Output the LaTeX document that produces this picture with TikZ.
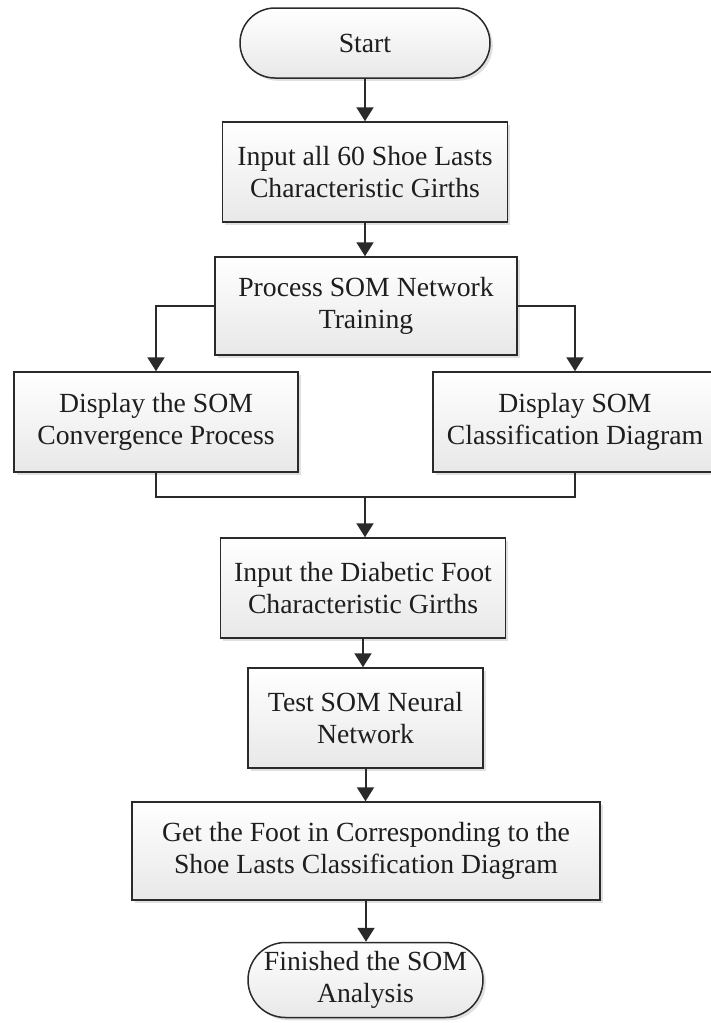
\documentclass[tikz,border=0pt]{standalone}
\usepackage{fontspec}
\setmainfont{Liberation Serif}
\usetikzlibrary{arrows.meta}
\usetikzlibrary{shadows}
\definecolor{inkgray}{HTML}{1E1E1E}
\definecolor{linegray}{HTML}{2A2A2A}
\tikzstyle{box base}=[draw=linegray, line width=0.75pt, align=center, text=inkgray,
  font=\fontsize{13.85pt}{16pt}\selectfont, inner xsep=0pt,
  top color=white, bottom color=black!9,
  drop shadow={shadow xshift=1.4pt, shadow yshift=-1.4pt, fill=black!30, opacity=0.4}]
\tikzstyle{process}=[box base, rectangle, minimum height=50pt]
\tikzstyle{terminal}=[box base, rectangle, rounded corners=17.5pt]
\tikzstyle{flow}=[draw=linegray, line width=1pt, -{Triangle[length=7pt, width=8.5pt]}]
\tikzstyle{merge line}=[draw=linegray, line width=1pt]

\begin{document}
\begin{tikzpicture}[x=0.5pt, y=-0.5pt]
      \useasboundingbox[fill=white] (0, 0) rectangle (711, 1023);
      \node[terminal, minimum width=125pt, minimum height=35pt] (start) at (365, 43) {Start};
      \node[process, minimum width=142.5pt] (girths) at (365, 172) {Input all 60 Shoe Lasts\\Characteristic Girths};
      \node[process, minimum width=151pt, minimum height=49pt] (train) at (366, 306) {Process SOM Network\\Training};
      \node[process, minimum width=142pt] (conv) at (156, 422) {Display the SOM\\Convergence Process};
      \node[process, minimum width=142pt] (classdiag) at (575, 422) {Display SOM\\Classification Diagram};
      \coordinate (merge) at (365, 497);
      \node[process, minimum width=142.5pt] (diabetic) at (363, 588) {Input the Diabetic Foot\\Characteristic Girths};
      \node[process, minimum width=117.5pt] (test) at (365.5, 718) {Test SOM Neural\\Network};
      \node[process, minimum width=234pt, minimum height=49pt] (foot) at (366, 851) {Get the Foot in Corresponding to the\\Shoe Lasts Classification Diagram};
      \node[terminal, minimum width=117.5pt, minimum height=37.5pt, rounded corners=18.75pt] (finish) at (365.5, 980) {Finished the SOM\\Analysis};
      \draw[flow] (start) to (girths);
      \draw[flow] (girths) to (girths |- train.north);
      \draw[flow] (train.west) -| (conv.north);
      \draw[flow] (train.east) -| (classdiag.north);
      \draw[merge line] (conv.south) |- (merge) -| (classdiag.south);
      \draw[flow] (merge) to (merge |- diabetic.north);
      \draw[flow] (diabetic) to (diabetic |- test.north);
      \draw[flow] (test) to (test |- foot.north);
      \draw[flow] (foot) to (foot |- finish.north);
    \end{tikzpicture}
\end{document}
